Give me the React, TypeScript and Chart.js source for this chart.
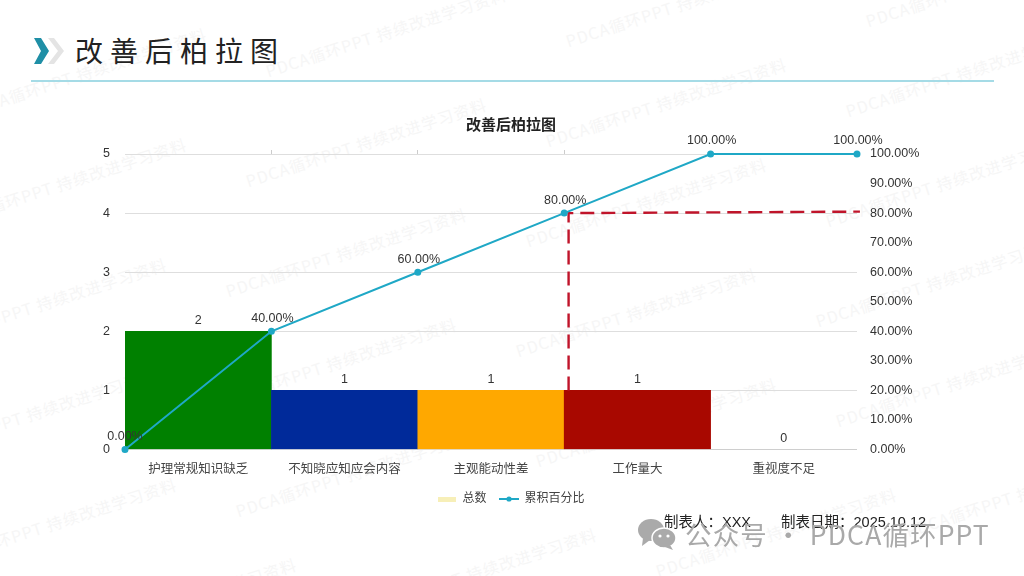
import React, { useEffect, useRef } from "react";
import { Chart, registerables } from "chart.js";

Chart.register(...registerables);

const categories = ["护理常规知识缺乏", "不知晓应知应会内容", "主观能动性差", "工作量大", "重视度不足"];
const totals = [2, 1, 1, 1, 0];
const barColors = ["#008000", "#002a9a", "#ffa800", "#a80800", "#a0a0a0"];
const cumulativeX = [0, 1, 2, 3, 4, 5];
const cumulativePct = [0, 0.4, 0.6, 0.8, 1, 1];
const dashX = [3.03, 3.03, 5.02];
const dashY = [0.2, 0.8, 0.805];
const leftTicks = [0, 1, 2, 3, 4, 5];

const SANS = '"Liberation Sans", "Noto Sans CJK SC", sans-serif';
const TEAL = "#1fa8c6";

function lineSwatch(): HTMLCanvasElement {
  const c = document.createElement("canvas");
  c.width = 20;
  c.height = 8;
  const g = c.getContext("2d")!;
  g.strokeStyle = TEAL;
  g.lineWidth = 2;
  g.beginPath();
  g.moveTo(0, 4);
  g.lineTo(20, 4);
  g.stroke();
  g.fillStyle = TEAL;
  g.beginPath();
  g.arc(10, 4, 2.6, 0, Math.PI * 2);
  g.fill();
  return c;
}

function barSwatch(): HTMLCanvasElement {
  const c = document.createElement("canvas");
  c.width = 18;
  c.height = 5;
  const g = c.getContext("2d")!;
  g.fillStyle = "#f7efb8";
  g.fillRect(0, 0, 18, 5);
  return c;
}

const dataLabels = {
  id: "dataLabels",
  afterDatasetsDraw(chart: any) {
    const { ctx } = chart;
    ctx.save();
    ctx.font = `12.5px ${SANS}`;
    ctx.fillStyle = "#333";
    ctx.textAlign = "center";
    ctx.textBaseline = "middle";
    chart.getDatasetMeta(0).data.forEach((el: any, i: number) => {
      ctx.fillText(String(totals[i]), el.x, el.y - 11);
    });
    chart.getDatasetMeta(1).data.forEach((el: any, i: number) => {
      ctx.fillText((cumulativePct[i] * 100).toFixed(2) + "%", el.x + (i === 0 ? 0 : 1), el.y - 13);
    });
    ctx.restore();
  },
};

const wmRows = [
  { x: -40, y: 60 }, { x: 260, y: 20 }, { x: 560, y: -10 }, { x: 860, y: -30 },
  { x: -60, y: 170 }, { x: 240, y: 130 }, { x: 540, y: 90 }, { x: 840, y: 60 },
  { x: -80, y: 290 }, { x: 220, y: 240 }, { x: 520, y: 190 }, { x: 820, y: 170 },
  { x: -90, y: 400 }, { x: 210, y: 350 }, { x: 510, y: 300 }, { x: 810, y: 270 },
  { x: -70, y: 510 }, { x: 230, y: 460 }, { x: 530, y: 410 }, { x: 830, y: 370 },
  { x: 50, y: 590 }, { x: 350, y: 560 }, { x: 650, y: 520 }, { x: 900, y: 480 },
];

export default function App() {
  const ref = useRef<HTMLCanvasElement>(null);

  useEffect(() => {
    const chart = new Chart(ref.current!, {
      data: {
        datasets: [
          {
            type: "bar",
            label: "总数",
            data: totals.map((y, i) => ({ x: i + 0.5, y })),
            backgroundColor: barColors,
            barPercentage: 1,
            categoryPercentage: 1,
            xAxisID: "x",
            yAxisID: "y",
            order: 3,
          },
          {
            type: "line",
            label: "累积百分比",
            data: cumulativeX.map((x, i) => ({ x, y: cumulativePct[i] })),
            borderColor: TEAL,
            backgroundColor: TEAL,
            borderWidth: 2,
            pointRadius: 2.5,
            pointHoverRadius: 2.5,
            clip: false,
            xAxisID: "x",
            yAxisID: "y2",
            order: 1,
          },
          {
            type: "line",
            label: "80%",
            data: dashX.map((x, i) => ({ x, y: dashY[i] })),
            borderColor: "#c0142a",
            borderWidth: 2.4,
            borderDash: [14, 7],
            pointRadius: 0,
            clip: false,
            xAxisID: "x",
            yAxisID: "y2",
            order: 2,
          },
        ],
      } as any,
      options: {
        animation: false,
        responsive: false,
        indexAxis: "x",
        layout: { padding: { left: 95, right: 97, top: 115, bottom: 61 } },
        scales: {
          x: {
            type: "linear",
            position: "bottom",
            min: 0,
            max: 5,
            offset: false,
            afterBuildTicks: (s: any) => { s.ticks = categories.map((_, i) => ({ value: i + 0.5 })); },
            grid: { display: false },
            border: { display: false },
            ticks: {
              color: "#444",
              font: { size: 12.5, family: SANS },
              maxRotation: 0,
              autoSkip: false,
              padding: 4.5,
              callback: (v: any) => categories[Math.floor(Number(v))],
            },
            afterFit: (s: any) => { s.height = 30.5; },
          },
          x2: {
            type: "linear",
            position: "top",
            min: 0,
            max: 5,
            ticks: { display: false, stepSize: 1 },
            border: { display: false },
            grid: {
              drawOnChartArea: false,
              drawTicks: true,
              tickLength: 4,
              tickColor: (c: any) => (c.tick && c.tick.value >= 1 && c.tick.value <= 3 ? "#cccccc" : "rgba(0,0,0,0)"),
            },
            afterFit: (s: any) => { s.height = 0; },
          },
          y: {
            position: "left",
            min: 0,
            max: 5,
            afterBuildTicks: (s: any) => { s.ticks = leftTicks.map((value) => ({ value })); },
            grid: { color: "#dedede", drawTicks: false },
            border: { display: false },
            ticks: { color: "#333", font: { size: 12.5, family: SANS }, padding: 15 },
            afterFit: (s: any) => { s.width = 30; },
          },
          y2: {
            position: "right",
            min: 0,
            max: 1,
            grid: { drawOnChartArea: false, drawTicks: false },
            border: { display: false },
            ticks: {
              stepSize: 0.1,
              color: "#333",
              font: { size: 12.5, family: SANS },
              padding: 13,
              callback: (v: any) => (Number(v) * 100).toFixed(2) + "%",
            },
            afterFit: (s: any) => { s.width = 70; },
          },
        },
        plugins: {
          title: {
            display: true,
            text: "改善后柏拉图",
            color: "#222",
            font: { size: 15, weight: "bold", family: '"Noto Sans CJK SC", sans-serif' },
            padding: { top: 0, bottom: 21 },
          },
          legend: {
            display: true,
            position: "bottom",
            labels: {
              usePointStyle: true,
              pointStyleWidth: 19,
              boxHeight: 8,
              padding: 13,
              color: "#444",
              font: { size: 12, family: SANS },
              generateLabels: () => [
                { text: "总数", pointStyle: barSwatch(), datasetIndex: 0, fillStyle: "#f7efb8", strokeStyle: "#f7efb8", lineWidth: 0, fontColor: "#444" },
                { text: "累积百分比", pointStyle: lineSwatch(), datasetIndex: 1, fillStyle: TEAL, strokeStyle: TEAL, lineWidth: 0, fontColor: "#444" },
              ],
            },
          },
          tooltip: { enabled: false },
        },
      } as any,
      plugins: [dataLabels],
    });
    return () => chart.destroy();
  }, []);

  return (
    <div style={{ position: "fixed", left: 0, top: 0, width: 1024, height: 576, overflow: "hidden", background: "#fff", fontFamily: '"Noto Sans CJK SC", sans-serif' }}>
      {wmRows.map((w, i) => (
        <div key={i} style={{ position: "absolute", left: w.x, top: w.y, transform: "rotate(-18deg)", whiteSpace: "nowrap", color: "#f6f6f6", fontSize: 16, letterSpacing: 1 }}>
          PDCA循环PPT 持续改进学习资料
        </div>
      ))}
      <svg width="60" height="40" style={{ position: "absolute", left: 28, top: 32 }}>
        <polygon points="20,6 30,19 20,32 26,32 36,19 26,6" fill="#e4e4e4" />
        <polygon points="6,6 13,6 21,19 13,32 6,32 13,19" fill="#1f8fa6" />
      </svg>
      <div style={{ position: "absolute", left: 75, top: 30, fontSize: 28, fontWeight: 400, lineHeight: "40px", letterSpacing: 7, color: "#222", whiteSpace: "nowrap" }}>改善后柏拉图</div>
      <div style={{ position: "absolute", left: 31, top: 80, width: 963, height: 2, background: "#a5dbe6" }} />
      <canvas ref={ref} width={1024} height={576} style={{ position: "absolute", left: 0, top: 0, width: 1024, height: 576 }} />
      <div style={{ position: "absolute", left: 664, top: 513, fontSize: 14.5, lineHeight: "18px", color: "#222", whiteSpace: "pre", fontFamily: SANS }}>制表人：XXX</div>
      <div style={{ position: "absolute", left: 781, top: 513, fontSize: 14.5, lineHeight: "18px", color: "#222", whiteSpace: "pre", fontFamily: SANS }}>制表日期：2025.10.12</div>
      <svg width="42" height="32" style={{ position: "absolute", left: 637, top: 518 }}>
        <ellipse cx="14" cy="12" rx="13" ry="11" fill="#aaa" />
        <polygon points="6,20 5,28 13,22" fill="#aaa" />
        <ellipse cx="27" cy="20" rx="12" ry="10" fill="#aaa" stroke="#fff" strokeWidth="1.5" />
        <polygon points="33,27 36,32 28,29" fill="#aaa" />
        <circle cx="23" cy="18" r="1.6" fill="#fff" />
        <circle cx="31" cy="18" r="1.6" fill="#fff" />
      </svg>
      <div style={{ position: "absolute", left: 685, top: 516, fontSize: 26.5, lineHeight: "36px", color: "#a9a9a9", whiteSpace: "nowrap", letterSpacing: 1.15 }}>公众号 · PDCA循环PPT</div>
    </div>
  );
}
